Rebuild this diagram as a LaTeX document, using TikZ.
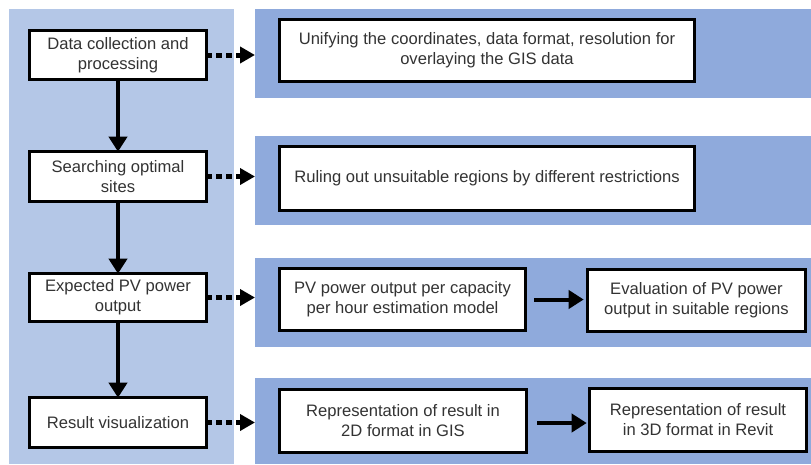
\documentclass[tikz,border=0pt]{standalone}
\usepackage{fontspec}
\setmainfont{Liberation Sans}
\usetikzlibrary{arrows.meta}
\definecolor{leftblue}{RGB}{180,199,231}
\definecolor{rightblue}{RGB}{143,170,220}
\definecolor{txt}{RGB}{51,51,51}
\tikzset{
  panel/.style={fill=#1, draw=none, inner sep=0pt, outer sep=0pt},
  stepbox/.style={draw=black, line width=3.4pt, fill=white, text=txt, align=center,
    inner sep=0pt, outer sep=0pt, font=\fontsize{16.6}{20}\selectfont},
  dotarrow/.style={line width=5pt, dash pattern=on 6pt off 4pt, -{Triangle[length=15pt,width=16pt]}},
  solarrow/.style={line width=4pt, -{Triangle[length=15pt,width=18pt]}}
}
\begin{document}
\begin{tikzpicture}[x=1pt,y=-1pt]
\useasboundingbox (0,0) rectangle (811,464);
% panels
\node[panel=leftblue, minimum width=225pt, minimum height=455pt] (lp) at (121.5,236.5) {};
\node[panel=rightblue, minimum width=556pt, minimum height=89pt] (p1) at (533,53.5) {};
\node[panel=rightblue, minimum width=556pt, minimum height=89pt] (p2) at (533,180.5) {};
\node[panel=rightblue, minimum width=556pt, minimum height=89pt] (p3) at (533,302.5) {};
\node[panel=rightblue, minimum width=556pt, minimum height=86pt] (p4) at (533,421) {};
% left boxes
\node[stepbox, minimum width=176.6pt, minimum height=48.6pt] (b1) at (118,55) {Data collection and\\processing};
\node[stepbox, minimum width=176.6pt, minimum height=49.6pt] (b2) at (118,176.5) {Searching optimal\\sites};
\node[stepbox, minimum width=176.6pt, minimum height=47.6pt] (b3) at (118,297.5) {Expected PV power\\output};
\node[stepbox, minimum width=176.6pt, minimum height=49.6pt] (b4) at (118,422.5) {Result visualization};
% right boxes
\node[stepbox, minimum width=414.6pt, minimum height=61.6pt] (r1) at (487,50.5) {Unifying the coordinates, data format, resolution for\\overlaying the GIS data};
\node[stepbox, minimum width=414.6pt, minimum height=63.6pt] (r2) at (487,178.5) {Ruling out unsuitable regions by different restrictions};
\node[stepbox, minimum width=245.6pt, minimum height=61.6pt] (r3a) at (402.5,299.5) {PV power output per capacity\\per hour estimation model};
\node[stepbox, minimum width=217.6pt, minimum height=61.6pt] (r3b) at (696.5,300.5) {Evaluation of PV power\\output in suitable regions};
\node[stepbox, minimum width=246.6pt, minimum height=62.6pt] (r4a) at (403,421) {Representation of result in\\2D format in GIS};
\node[stepbox, minimum width=216.6pt, minimum height=62.6pt] (r4b) at (698,420) {Representation of result\\in 3D format in Revit};
% vertical arrows
\draw[solarrow] (b1.south) -- (b2.north);
\draw[solarrow] (b2.south) -- (b3.north);
\draw[solarrow] (b3.south) -- (b4.north);
% dotted arrows
\draw[dotarrow] (b1.east) -- (b1.east -| p1.west);
\draw[dotarrow] (b2.east) -- (b2.east -| p2.west);
\draw[dotarrow] (b3.east) -- (b3.east -| p3.west);
\draw[dotarrow] (b4.east) -- (b4.east -| p4.west);
% horizontal arrows
\draw[solarrow, shorten <=9pt, shorten >=4pt] (r3a.east) -- (r3a.east -| r3b.west);
\draw[solarrow, shorten <=11pt, shorten >=3pt] (r4a.east |- 0,423) -- (r4b.west |- 0,423);
\end{tikzpicture}
\end{document}
